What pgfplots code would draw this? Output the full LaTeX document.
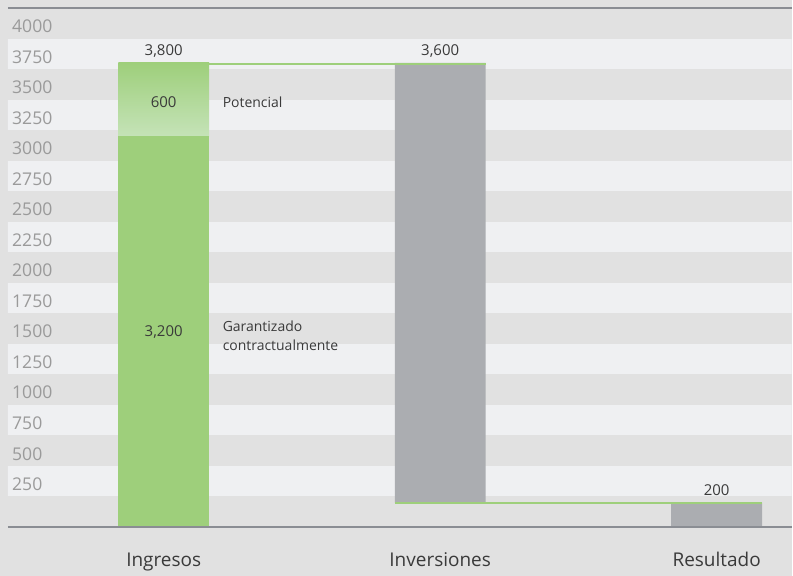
\documentclass[border=0pt]{standalone}
\usepackage{pgfplots}
\pgfplotsset{compat=1.18}
\usepackage{fontspec}
\setmainfont{Open Sans}
\definecolor{bgc}{HTML}{E1E1E1}
\definecolor{bandc}{HTML}{EFF0F2}
\definecolor{grn}{HTML}{9ECF7B}
\definecolor{grnlight}{HTML}{C5E3B8}
\definecolor{barg}{HTML}{ABADB1}
\definecolor{linec}{HTML}{8A8D93}
\definecolor{tickc}{HTML}{9A9A9A}
\definecolor{txtc}{HTML}{3A3A3A}
\pgfplotsset{base/.style={
  at={(0pt,0pt)}, anchor=south west,
  scale only axis, width=785pt, height=520pt,
  xmin=-0.5632, xmax=2.2708, ymin=0, ymax=4250}}
\begin{document}
\begin{tikzpicture}
\fill[bgc] (-8pt,-49pt) rectangle (785pt,528pt);
% background bands
\begin{axis}[base, hide axis]
\pgfplotsinvokeforeach{1,3,...,15}{\fill[bandc] (axis cs:-1,{#1*250}) rectangle (axis cs:3,{#1*250+250});}
\end{axis}
% bars
\begin{axis}[base,
  axis line style={draw=none},
  major tick length=0pt,
  xtick={0,1,2}, xticklabels={Ingresos,Inversiones,Resultado},
  ytick={350,600,...,4100},
  yticklabels={250,500,750,1000,1250,1500,1750,2000,2250,2500,2750,3000,3250,3500,3750,4000},
  y tick label style={anchor=west, inner sep=0pt, xshift=4pt, font=\fontsize{17.6}{20}\selectfont, text=tickc},
  x tick label style={anchor=base, yshift=-40pt, font=\fontsize{19}{22}\selectfont, text=txtc},
  ybar stacked, bar width=0.3285,
]
% invisible offset
\addplot[draw=none, fill=none] coordinates {(0,0) (1,200) (2,0)};
% Garantizado contractualmente
\addplot[draw=none, fill=grn] coordinates {(0,3200) (1,0) (2,0)};
% Potencial
\addplot[draw=none, top color=grn, bottom color=grnlight] coordinates {(0,600) (1,0) (2,0)};
% Inversiones / Resultado
\addplot[draw=none, fill=barg] coordinates {(0,0) (1,3600) (2,200)};
\end{axis}
% connectors and labels
\begin{axis}[base, hide axis, clip=false]
\addplot[grn, line width=2pt] coordinates {(0.1642,3792) (1.1642,3792)};
\addplot[grn, line width=2pt] coordinates {(0.8358,200) (2.1642,200)};
\draw[linec, line width=2.5pt] (rel axis cs:0,1) -- (rel axis cs:1,1);
\draw[linec, line width=3pt] (rel axis cs:0,0) -- (rel axis cs:1,0);
\begin{scope}[font=\fontsize{15}{18}\selectfont, text=txtc]
\node[anchor=base] at (axis cs:0,3861) {3,800};
\node[anchor=base] at (axis cs:1,3861) {3,600};
\node[anchor=base] at (axis cs:2,255) {200};
\node[anchor=base] at (axis cs:0,3439) {600};
\node[anchor=base] at (axis cs:0,1562) {3,200};
\end{scope}
\begin{scope}[font=\fontsize{14}{17}\selectfont, text=txtc]
\node[anchor=base west, inner sep=0pt] at (axis cs:0.213,3439) {Potencial};
\node[anchor=base west, inner sep=0pt] at (axis cs:0.213,1603) {Garantizado};
\node[anchor=base west, inner sep=0pt] at (axis cs:0.213,1447) {contractualmente};
\end{scope}
\end{axis}
\end{tikzpicture}
\end{document}
